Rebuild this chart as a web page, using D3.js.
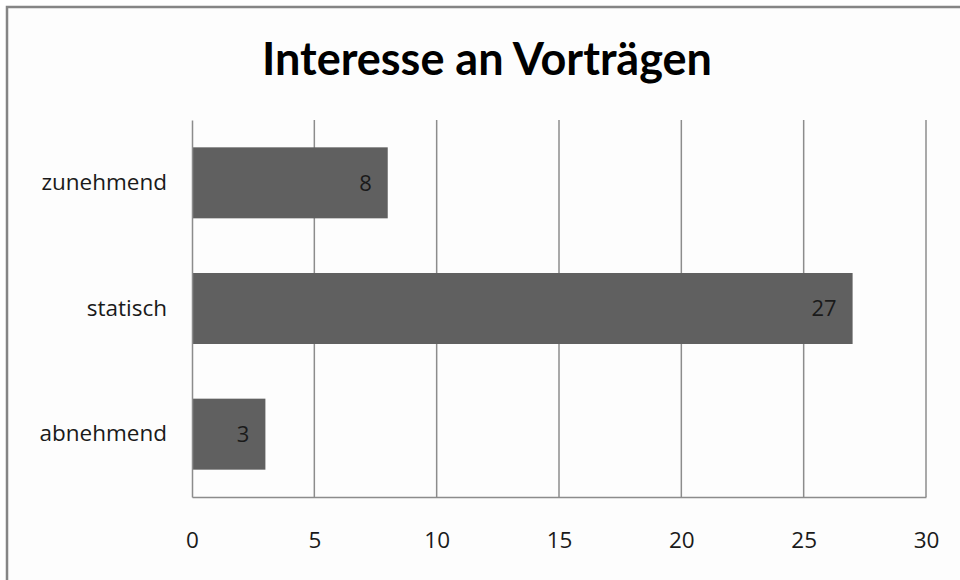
<!DOCTYPE html>
<html>
<head>
<meta charset="utf-8">
<script src="https://cdn.jsdelivr.net/npm/d3@7"></script>
<style>
  body { margin: 0; background: #fff; }
  svg { display: block; font-family: "Open Sans", sans-serif; }
</style>
</head>
<body>
<svg id="chart" width="960" height="580"></svg>
<script>
// chart data
var categories = ['zunehmend', 'statisch', 'abnehmend'],
    values = [8, 27, 3],
    xTicks = [0, 5, 10, 15, 20, 25, 30],
    title = 'Interesse an Vorträgen';

var svg = d3.select('#chart'),
    margin = {top: 120, right: 34, bottom: 83, left: 192},
    width = 960 - margin.left - margin.right,
    height = 580 - margin.top - margin.bottom;

// outer frame
svg.append('rect')
    .attr('x', 7).attr('y', 7)
    .attr('width', 960).attr('height', 580)
    .attr('fill', '#fdfdfd')
    .attr('stroke', '#858585')
    .attr('stroke-width', 2.5);

svg.append('text')
    .attr('x', 487).attr('y', 75)
    .attr('text-anchor', 'middle')
    .attr('font-family', 'Lato, sans-serif')
    .attr('font-size', 45)
    .attr('font-weight', 'bold')
    .attr('fill', '#000')
    .text(title);

var g = svg.append('g').attr('transform', 'translate(' + margin.left + ',' + margin.top + ')');

var x = d3.scaleLinear().domain([0, 30]).range([0, width]);
var y = d3.scaleBand().domain(categories).range([0, height]).paddingInner(0.435).paddingOuter(0.2175);

// vertical grid lines
g.selectAll('.grid').data(xTicks.slice(1)).enter().append('line')
    .attr('class', 'grid')
    .attr('x1', function (d) { return x(d); }).attr('x2', function (d) { return x(d); })
    .attr('y1', 0).attr('y2', height)
    .attr('stroke', '#8c8c8c').attr('stroke-width', 1.5);

g.selectAll('.bar').data(values).enter().append('rect')
    .attr('class', 'bar')
    .attr('x', x(0))
    .attr('y', function (d, i) { return y(categories[i]); })
    .attr('width', function (d) { return x(d) - x(0); })
    .attr('height', y.bandwidth())
    .attr('fill', '#606060');

g.selectAll('.val').data(values).enter().append('text')
    .attr('class', 'val')
    .attr('x', function (d) { return x(d) - 16; })
    .attr('y', function (d, i) { return y(categories[i]) + y.bandwidth() / 2; })
    .attr('dy', '0.36em')
    .attr('text-anchor', 'end')
    .attr('font-size', 22)
    .attr('fill', '#1a1a1a')
    .text(function (d) { return d; });

// axes
var xAxis = d3.axisBottom(x).tickValues(xTicks).tickSize(0).tickPadding(35);
var gx = g.append('g').attr('transform', 'translate(0,' + height + ')').call(xAxis);
gx.select('.domain').attr('stroke', '#8c8c8c').attr('stroke-width', 1.5);
gx.selectAll('text').attr('font-size', 22.5).attr('fill', '#1a1a1a').attr('font-family', '"Open Sans", sans-serif');

var yAxis = d3.axisLeft(y).tickSize(0).tickPadding(25);
var gy = g.append('g').call(yAxis);
gy.select('.domain').attr('stroke', '#8c8c8c').attr('stroke-width', 1.5);
gy.selectAll('text').attr('font-size', 22.5).attr('fill', '#1a1a1a').attr('font-family', '"Open Sans", sans-serif');
</script>
</body>
</html>
